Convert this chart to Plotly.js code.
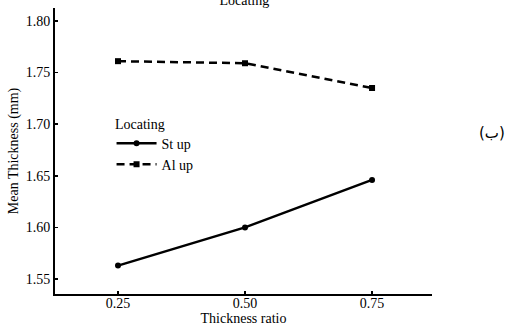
<!DOCTYPE html>
<html><head><meta charset="utf-8">
<script src="https://cdn.plot.ly/plotly-3.0.1.min.js"></script>
<style>body{margin:0;background:#fff}#c{width:507px;height:326px}</style>
</head><body><div id="c"></div>
<script>
const ratios = [0.25, 0.50, 0.75];
const tickLabels = ["0.25", "0.50", "0.75"];
const stUp = [1.563, 1.600, 1.646];
const alUp = [1.761, 1.759, 1.735];
const yTicks = [1.55, 1.60, 1.65, 1.70, 1.75, 1.80];
const yTickLabels = ["1.55", "1.60", "1.65", "1.70", "1.75", "1.80"];

const fam = "Liberation Serif";
const f = {family: fam, size: 14, color: "#000"};
const traces = [
  {x: ratios, y: stUp, name: "St up", mode: "lines+markers",
   line: {color: "#000", width: 2.5, dash: "solid"}, marker: {symbol: "circle", size: 6, color: "#000"}},
  {x: ratios, y: alUp, name: "Al up", mode: "lines+markers",
   line: {color: "#000", width: 2.5, dash: "8px,5px"}, marker: {symbol: "square", size: 6, color: "#000"}}
];
const layout = {
  width: 507, height: 326,
  margin: {l: 55, r: 75, t: 8, b: 32},
  paper_bgcolor: "#fff", plot_bgcolor: "#fff",
  font: f,
  showlegend: true,
  title: {text: "Locating", font: f, x: 0.482, xanchor: "center", y: 1.0, yanchor: "middle"},
  legend: {x: 0.15, y: 0.582, xanchor: "left", yanchor: "top", bgcolor: "rgba(0,0,0,0)",
    font: f, tracegroupgap: 0, itemwidth: 40},
  xaxis: {range: [0.126, 0.868], tickvals: ratios, ticktext: tickLabels, showgrid: false, zeroline: false,
    showline: true, linecolor: "#000", linewidth: 2, ticks: "inside", ticklen: 3, tickcolor: "#000", tickwidth: 1.5,
    tickfont: f, ticklabelstandoff: -5, title: {text: "Thickness ratio", font: f, standoff: 2}},
  yaxis: {range: [1.5355, 1.8125], tickvals: yTicks, ticktext: yTickLabels, showgrid: false, zeroline: false,
    showline: true, linecolor: "#000", linewidth: 2, ticks: "inside", ticklen: 3, tickcolor: "#000", tickwidth: 1.5,
    tickfont: f, title: {text: "Mean Thickness (mm)", font: f, standoff: 4}},
  annotations: [
    {text: "Locating", xref: "paper", yref: "paper", x: 0.153, y: 0.591, xanchor: "left", yanchor: "middle",
     showarrow: false, font: f},
    {text: "(ب)", xref: "paper", yref: "paper", x: 1.0, y: 0.563, xanchor: "left", yanchor: "middle",
     xshift: 45, showarrow: false, font: {family: "DejaVu Sans", size: 15, color: "#000"}}]
};
Plotly.newPlot("c", traces, layout, {staticPlot: true});
</script></body></html>
